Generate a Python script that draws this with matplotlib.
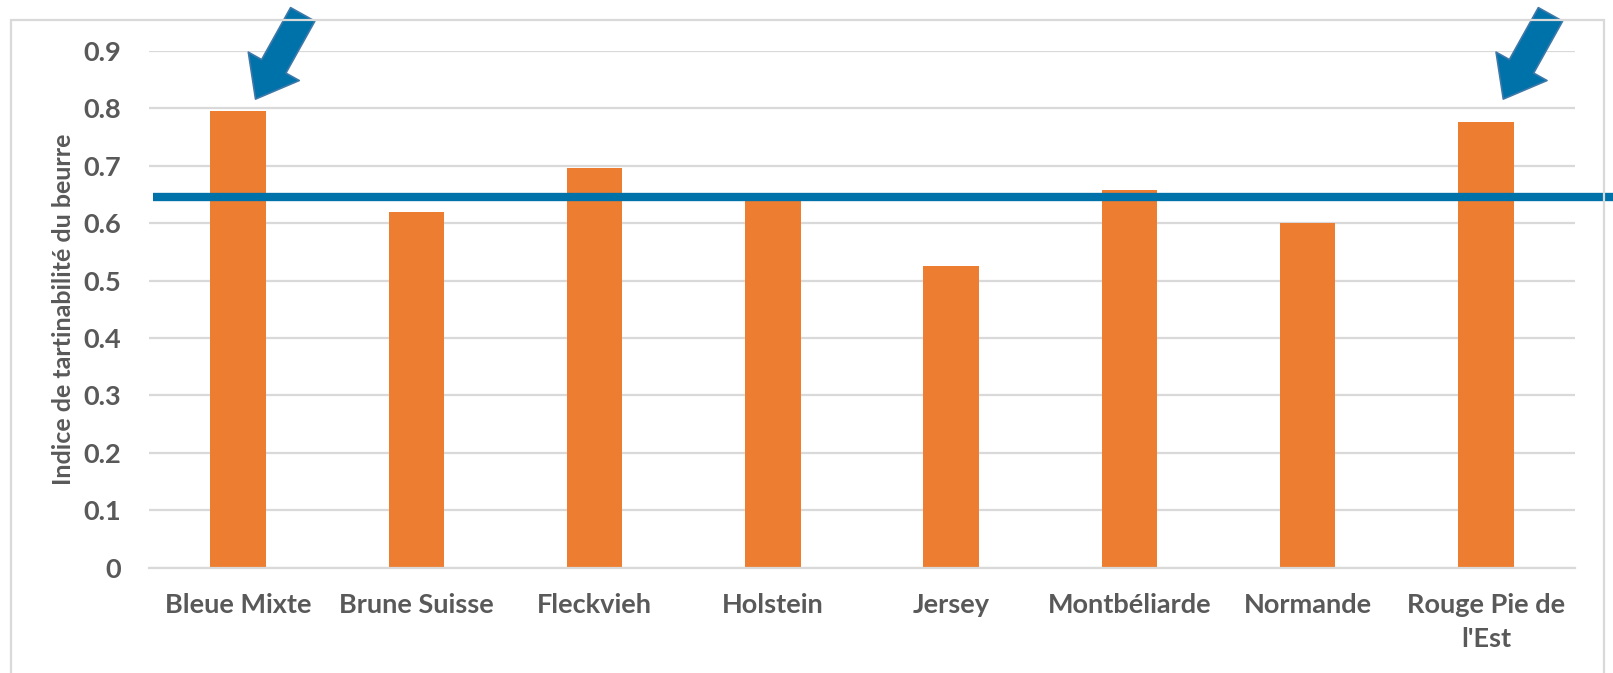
import matplotlib.pyplot as plt
from matplotlib.patches import Rectangle

# data
races = ["Bleue Mixte", "Brune Suisse", "Fleckvieh", "Holstein", "Jersey",
         "Montbéliarde", "Normande", "Rouge Pie de\nl'Est"]
indice = [0.796, 0.619, 0.697, 0.643, 0.525, 0.658, 0.601, 0.776]
moyenne = 0.645
highlight = ["Bleue Mixte", "Rouge Pie de\nl'Est"]

orange = "#ED7D31"
blue = "#0072AA"
grey_txt = "#595959"
grid_col = "#D9D9D9"

plt.rcParams['font.family'] = ['Lato', 'DejaVu Sans']

fig = plt.figure(figsize=(16.13, 6.73), dpi=100)
ax = fig.add_axes([149/1613, 1-567.7/673, (1575-149)/1613, (567.7-51)/673])

x = list(range(len(races)))
ax.bar(x, indice, width=0.31, color=orange, zorder=2)

ax.set_xlim(-0.5, len(races)-0.5)
ax.set_ylim(0, 0.9)
ax.set_yticks([i/10 for i in range(10)])
ax.set_yticklabels(["0"] + ["%.1f" % (i/10) for i in range(1, 10)])
ax.set_xticks(x)
ax.set_xticklabels(races, linespacing=1.5)

ax.grid(axis='y', color=grid_col, linewidth=1.6, zorder=0)
ax.set_axisbelow(True)
for s in ['top', 'right', 'left']:
    ax.spines[s].set_visible(False)
ax.spines['bottom'].set_color(grid_col)
ax.spines['bottom'].set_linewidth(1.6)
ax.tick_params(axis='both', length=0, labelsize=19.5, labelcolor=grey_txt)
ax.tick_params(axis='y', pad=20)
ax.tick_params(axis='x', pad=18)
for lab in ax.get_xticklabels() + ax.get_yticklabels():
    lab.set_fontweight('bold')

ax.set_ylabel("Indice de tartinabilité du beurre", fontsize=18, fontweight='bold',
              color=grey_txt)
ax.yaxis.set_label_coords(-(149-75)/1426, 0.5)

# mean line, running past the right edge of the frame
ax.plot([-0.48, len(races)+0.5], [moyenne, moyenne], color=blue, linewidth=6,
        solid_capstyle='butt', zorder=3, clip_on=False)

# arrows pointing at the two highlighted breeds
for name in highlight:
    i = races.index(name)
    ax.annotate("", xy=(i+0.09, 0.812), xytext=(i+0.37, 0.968),
                arrowprops=dict(arrowstyle="simple,head_length=0.27,head_width=0.42,tail_width=0.2",
                                mutation_scale=100, facecolor=blue, edgecolor="#3E78A8",
                                linewidth=1.2),
                annotation_clip=False, zorder=4)

# outer frame like the chart area border
fig.patches.append(Rectangle((11/1613, -0.01), (1604-11)/1613, 1-20/673+0.01,
                             transform=fig.transFigure, fill=False,
                             edgecolor=grid_col, linewidth=1.6))

fig.savefig("out.png", dpi=100)
